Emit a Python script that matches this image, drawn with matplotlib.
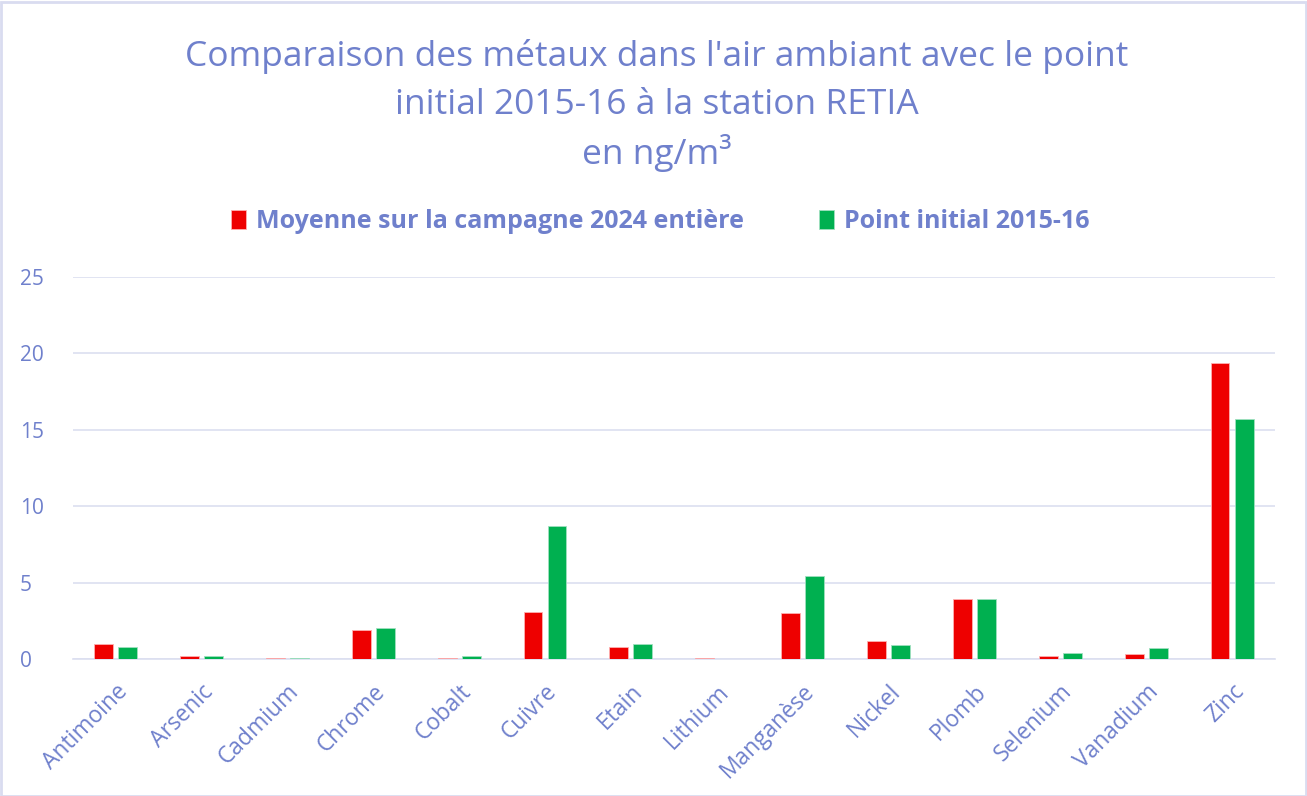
import matplotlib
matplotlib.use("Agg")
import matplotlib.pyplot as plt
import numpy as np
from matplotlib.patches import Rectangle

categories = ["Antimoine", "Arsenic", "Cadmium", "Chrome", "Cobalt", "Cuivre", "Etain",
              "Lithium", "Manganèse", "Nickel", "Plomb", "Selenium", "Vanadium", "Zinc"]
moyenne_2024 = [1.0, 0.2, 0.05, 1.9, 0.05, 3.1, 0.8, 0.05, 3.0, 1.2, 3.9, 0.2, 0.3, 19.4]
initial_2015 = [0.8, 0.2, 0.05, 2.0, 0.2, 8.7, 1.0, 0.0, 5.4, 0.9, 3.9, 0.4, 0.7, 15.7]
yticks = [0, 5, 10, 15, 20, 25]

txt_color = "#6F80CC"
grid_color = "#DCDFF0"
red = "#EE0000"
green = "#00B050"

plt.rcParams['font.family'] = ['Open Sans', 'DejaVu Sans']

W, H = 1307, 796
fig = plt.figure(figsize=(W / 100, H / 100), dpi=100)
ax = fig.add_axes([72.6 / W, 1 - 659 / H, (1275 - 72.6) / W, (659 - 277) / H])

x = np.arange(len(categories))
bw = 0.22
off = 0.14
ax.bar(x - off, moyenne_2024, bw, color=red, edgecolor="#FFB0B0", linewidth=0.6,
       label="Moyenne sur la campagne 2024 entière", zorder=3)
ax.bar(x + off, initial_2015, bw, color=green, edgecolor="#A0E0C0", linewidth=0.6,
       label="Point initial 2015-16", zorder=3)

ax.set_xlim(-0.5, len(categories) - 0.5)
ax.set_ylim(0, 25)
ax.set_yticks(yticks)
ax.set_yticklabels([str(t) for t in yticks], color=txt_color, fontsize=15)
ax.yaxis.grid(True, color=grid_color, linewidth=1.2, zorder=0)
ax.set_axisbelow(True)
ax.tick_params(axis='x', length=0, pad=15)
for lbl in ax.get_yticklabels():
    lbl.set_horizontalalignment('left')
ax.yaxis.set_tick_params(length=0, pad=38)
ax.set_xticks(x)
ax.set_xticklabels(categories, rotation=45, ha='right', rotation_mode='anchor',
                   color=txt_color, fontsize=16.4)
for s in ["top", "right", "left"]:
    ax.spines[s].set_visible(False)
ax.spines["bottom"].set_color(grid_color)
ax.spines["bottom"].set_linewidth(1.2)

fig.text(657 / W, 1 - 57 / H, "Comparaison des métaux dans l'air ambiant avec le point",
         ha='center', va='center', color=txt_color, fontsize=25.5)
fig.text(657 / W, 1 - 105 / H, "initial 2015-16 à la station RETIA",
         ha='center', va='center', color=txt_color, fontsize=25.5)
fig.text(657 / W, 1 - 153 / H, "en ng/m³",
         ha='center', va='center', color=txt_color, fontsize=25.5)

leg = fig.legend(loc='center', bbox_to_anchor=(660 / W, 1 - 222 / H), ncol=2, frameon=False,
                 prop={'weight': 'bold', 'size': 18}, handlelength=0.6, handleheight=0.8,
                 handletextpad=0.4, columnspacing=3.0)
for t in leg.get_texts():
    t.set_color(txt_color)

fig.patches.append(Rectangle((0.5 / W, 0.5 / H), 1 - 2 / W, 1 - 2 / H, transform=fig.transFigure,
                             fill=False, edgecolor="#D9DCF0", linewidth=2))

fig.savefig("out.png", dpi=100, facecolor="white")
